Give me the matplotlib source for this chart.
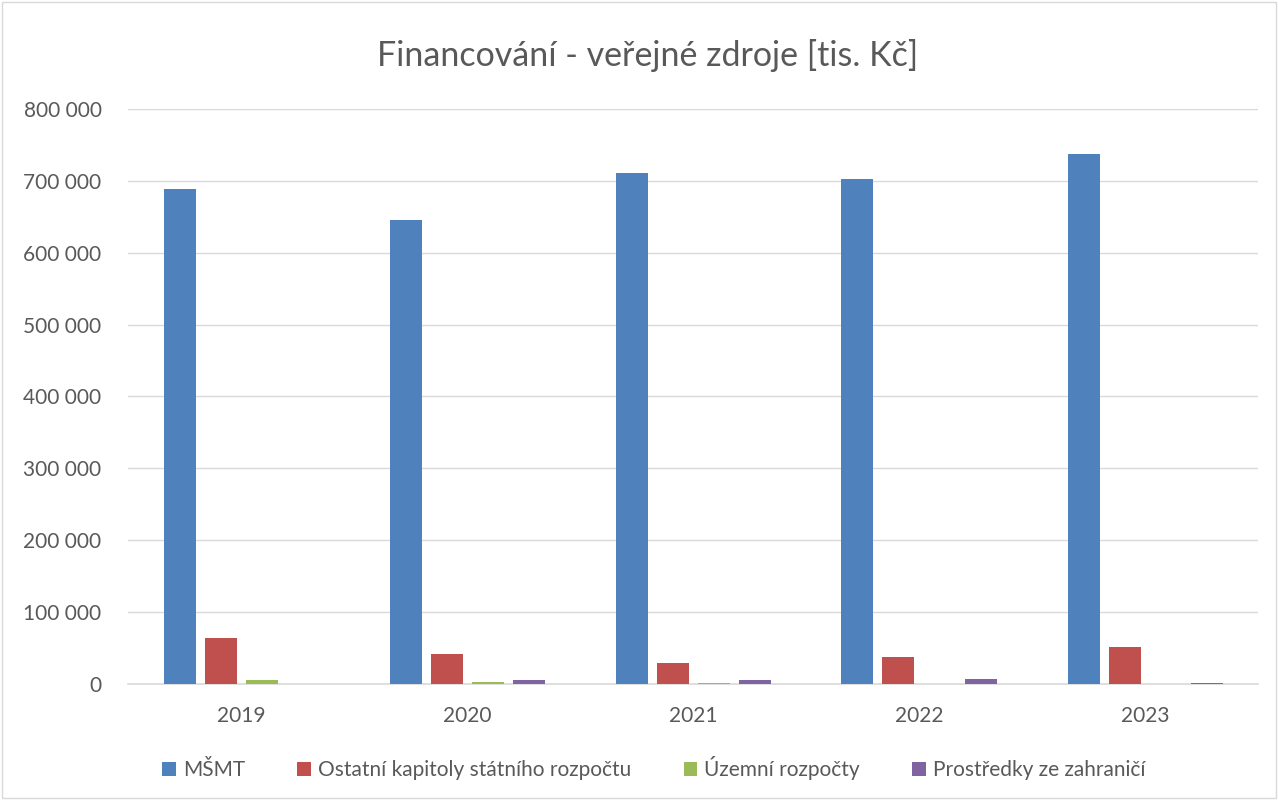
import matplotlib
matplotlib.use("Agg")
import matplotlib.pyplot as plt
import numpy as np
from matplotlib.patches import Rectangle

plt.rcParams['font.family'] = ['Lato', 'DejaVu Sans']

years = ["2019", "2020", "2021", "2022", "2023"]
series_names = ["MŠMT", "Ostatní kapitoly státního rozpočtu", "Územní rozpočty", "Prostředky ze zahraničí"]
msmt = [689000, 646000, 711000, 702000, 738000]
ostatni = [64000, 42000, 29000, 38000, 52000]
uzemni = [5500, 3000, 1000, 0, 0]
zahranici = [0, 5500, 5000, 7000, 1000]
colors = ["#4F81BD", "#C0504D", "#9BBB59", "#8064A2"]
yticks = [0, 100000, 200000, 300000, 400000, 500000, 600000, 700000, 800000]

def fmt(v):
    return f"{v:,}".replace(",", " ")

fig = plt.figure(figsize=(12.78, 8), dpi=100)
ax = fig.add_axes([128/1278, 1 - 684/800, 1130/1278, 575/800])

x = np.arange(len(years))
width = 32/226
step = 41/226
data = [msmt, ostatni, uzemni, zahranici]
for i, (vals, c, name) in enumerate(zip(data, colors, series_names)):
    ax.bar(x + (i - 1.5) * step, vals, width, color=c, label=name, zorder=3)

ax.set_xlim(-0.5, 4.5)
ax.set_ylim(0, 800000)
ax.set_yticks(yticks)
ax.set_yticklabels([fmt(v) for v in yticks])
ax.set_xticks(x)
ax.set_xticklabels(years)
ax.grid(axis='y', color='#D9D9D9', linewidth=1, zorder=0)
for s in ['top', 'right', 'left']:
    ax.spines[s].set_visible(False)
ax.spines['bottom'].set_color('#D9D9D9')
ax.spines['bottom'].set_linewidth(1.2)
ax.tick_params(axis='both', length=0, labelsize=15, colors='#595959')
ax.tick_params(axis='y', pad=19)
ax.tick_params(axis='x', pad=16)

fig.text(648/1278, 1 - 55/800, "Financování - veřejné zdroje [tis. Kč]", ha='center', va='center',
         fontsize=24.5, color='#595959')

handles, labels = ax.get_legend_handles_labels()
fig.legend(handles, labels, loc='center', bbox_to_anchor=(654/1278, 1 - 768/800), ncol=4,
           frameon=False, fontsize=15, labelcolor='#595959', handlelength=0.65, handleheight=0.65,
           handletextpad=0.35, columnspacing=2.5)

fig.patches.append(Rectangle((2/1278, 2/800), 1 - 4/1278, 1 - 4/800, transform=fig.transFigure,
                             fill=False, edgecolor='#D9D9D9', linewidth=1))

fig.savefig("out.png", dpi=100, facecolor='white')
